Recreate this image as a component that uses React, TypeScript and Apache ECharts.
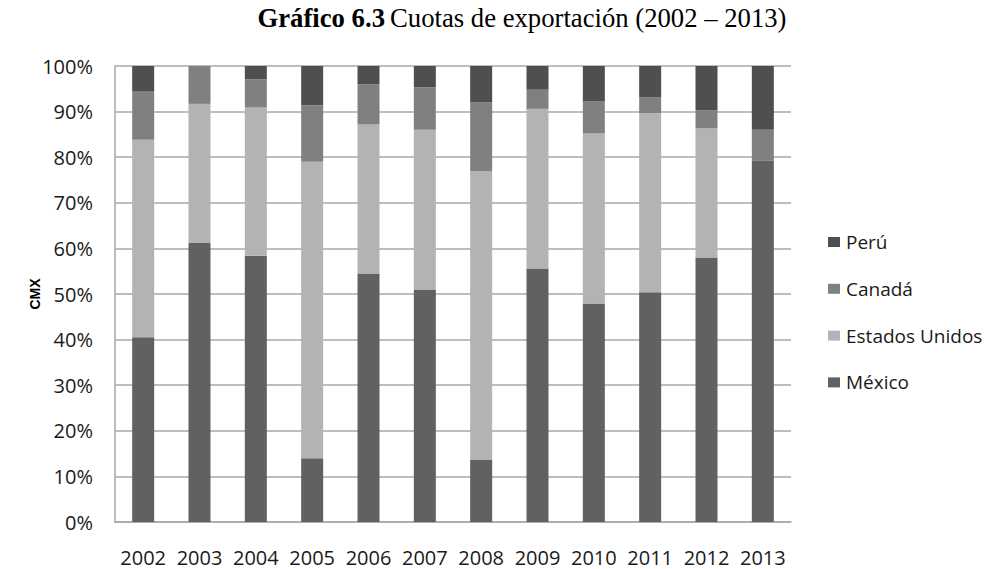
import React, { useEffect, useRef } from "react";
import * as echarts from "echarts";

const years = ["2002", "2003", "2004", "2005", "2006", "2007", "2008", "2009", "2010", "2011", "2012", "2013"];
const mexico = [40.5, 61.2, 58.4, 14.0, 54.5, 51.0, 13.7, 55.6, 47.9, 50.4, 58.0, 79.2];
const estadosUnidos = [43.3, 30.5, 32.5, 65.0, 32.7, 35.0, 63.3, 35.0, 37.3, 39.3, 28.3, 0];
const canada = [10.7, 8.3, 6.2, 12.4, 8.8, 9.3, 15.0, 4.2, 7.0, 3.4, 4.0, 6.8];
const peru = [5.5, 0, 2.9, 8.6, 4.0, 4.7, 8.0, 5.2, 7.8, 6.9, 9.7, 14.0];
const legendOrder = ["Perú", "Canadá", "Estados Unidos", "México"];

const LABEL_FONT = "'Open Sans', sans-serif";

export default function App() {
  const ref = useRef<HTMLDivElement>(null);
  useEffect(() => {
    if (!ref.current) return;
    const chart = echarts.init(ref.current, undefined, { renderer: "svg" });
    const mk = (name: string, data: number[], color: string) => ({
      name,
      type: "bar",
      stack: "total",
      data,
      barWidth: 22,
      itemStyle: { color },
    });
    chart.setOption({
      animation: false,
      backgroundColor: "#ffffff",
      title: {
        text: "{b|Gráfico 6.3} {r|Cuotas de exportación (2002 – 2013)}",
        left: 517,
        textAlign: "center",
        top: -1,
        textStyle: {
          rich: {
            b: { fontFamily: "'Liberation Serif', serif", fontWeight: "bold", fontSize: 26.7, color: "#000" },
            r: { fontFamily: "'Liberation Serif', serif", fontWeight: "normal", fontSize: 26.7, color: "#000" },
          },
        },
      },
      legend: {
        orient: "vertical",
        left: 828,
        top: 231,
        padding: 0,
        itemWidth: 12,
        itemHeight: 10,
        itemGap: 24.8,
        icon: "rect",
        data: legendOrder,
        textStyle: { fontFamily: LABEL_FONT, fontSize: 19, color: "#1a1a1a", lineHeight: 22, padding: [0, 0, 0, 1] },
      },
      grid: { left: 115, right: 202, top: 66, bottom: 47, containLabel: false },
      xAxis: {
        type: "category",
        data: years,
        axisLine: { show: true, lineStyle: { color: "#a8a8a8", width: 1.5 } },
        axisTick: { show: false },
        axisLabel: { interval: 0, fontFamily: LABEL_FONT, fontSize: 20, lineHeight: 20, color: "#1a1a1a", margin: 25 },
      },
      yAxis: {
        type: "value",
        min: 0,
        max: 100,
        interval: 10,
        name: "CMX",
        nameLocation: "middle",
        nameGap: 73,
        nameMoveOverlap: false,
        nameTextStyle: { fontFamily: "'Liberation Sans', sans-serif", fontWeight: "bold", fontSize: 14, color: "#000" },
        axisLine: { show: true, lineStyle: { color: "#a8a8a8", width: 1.5 } },
        axisTick: { show: false },
        splitLine: { lineStyle: { color: "#a8a8a8", width: 1.5 } },
        axisLabel: { formatter: "{value}%", fontFamily: LABEL_FONT, fontSize: 20, color: "#1a1a1a", margin: 22 },
      },
      series: [
        mk("México", mexico, "#616161"),
        mk("Estados Unidos", estadosUnidos, "#b3b3b3"),
        mk("Canadá", canada, "#808080"),
        mk("Perú", peru, "#4f4f4f"),
      ],
    });
    return () => chart.dispose();
  }, []);
  return <div ref={ref} style={{ position: "absolute", left: 0, top: 0, width: 993, height: 569 }} />;
}
